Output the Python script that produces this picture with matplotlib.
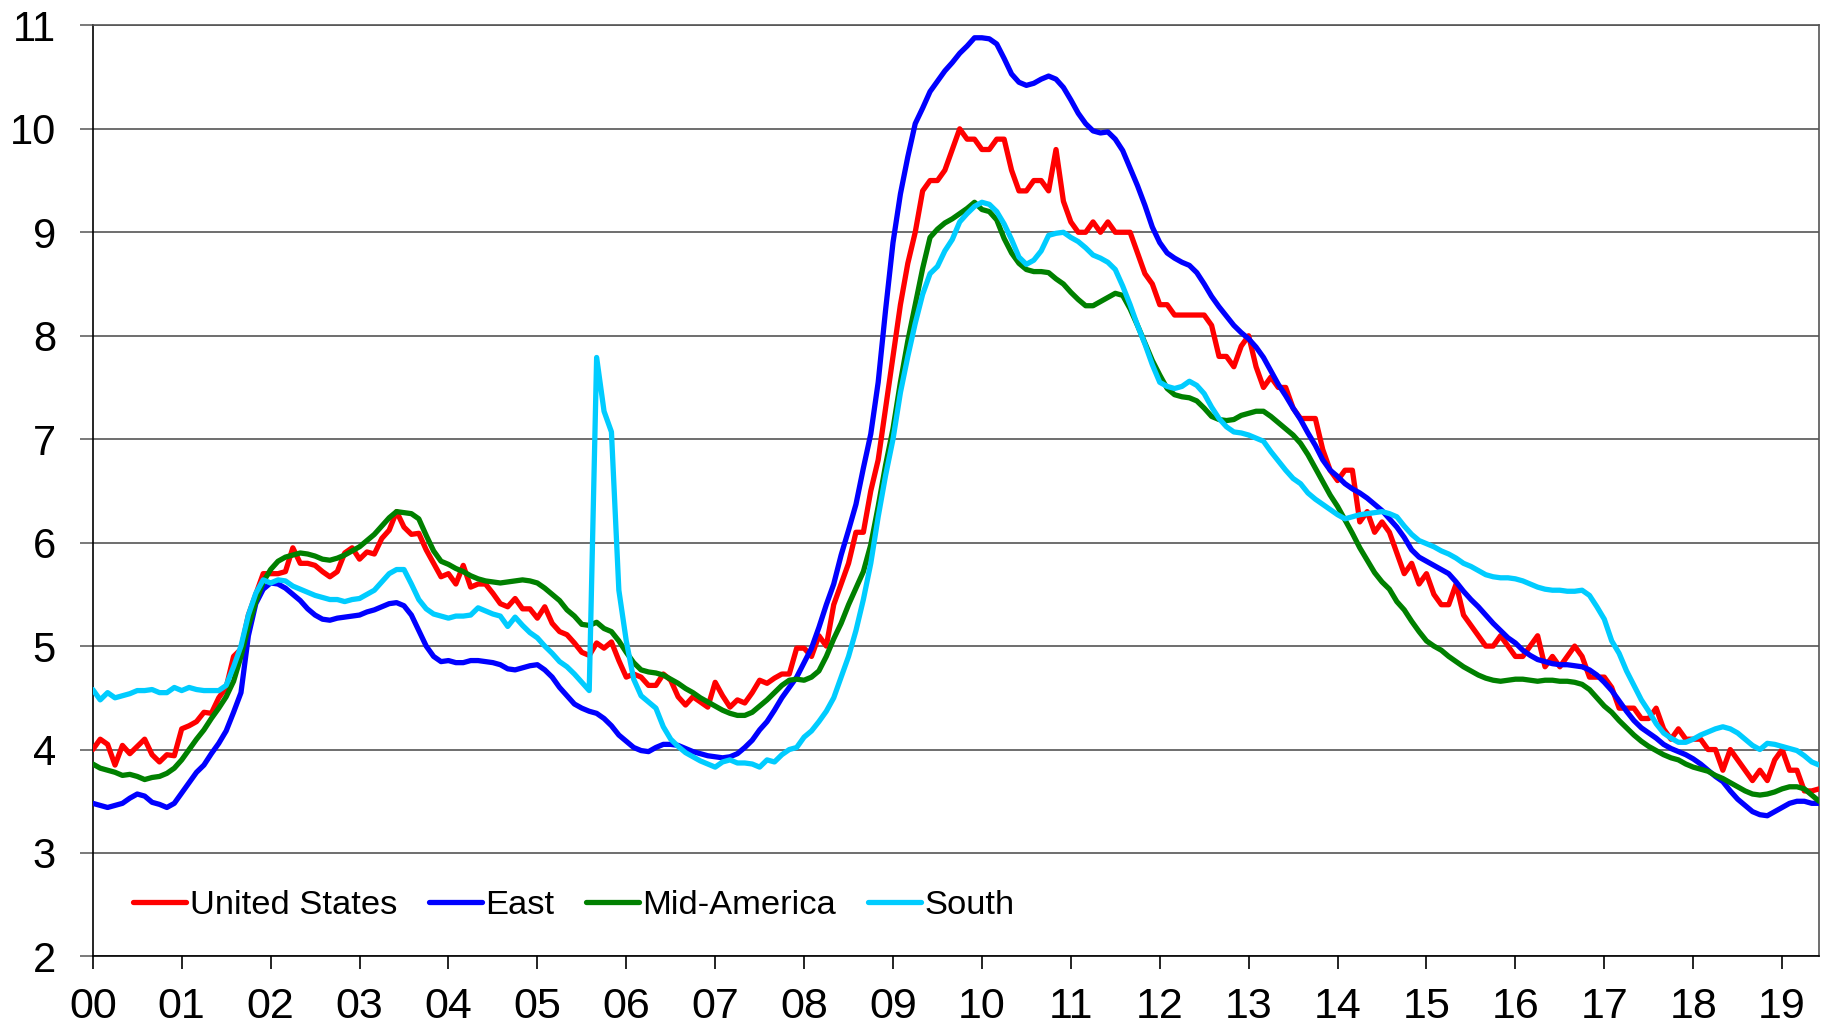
import matplotlib
matplotlib.use("Agg")
import matplotlib.pyplot as plt
import numpy as np

plt.rcParams['font.family'] = ['Liberation Sans', 'DejaVu Sans']

# monthly values, Jan 2000 .. Jun 2019
year_labels = ['00', '01', '02', '03', '04', '05', '06', '07', '08', '09',
               '10', '11', '12', '13', '14', '15', '16', '17', '18', '19']

us = [
    4.0, 4.1, 4.05, 3.85, 4.04, 3.96, 4.03, 4.1, 3.95, 3.88, 3.95, 3.94,
    4.2, 4.23, 4.27, 4.36, 4.35, 4.5, 4.6, 4.9, 4.97, 5.3, 5.5, 5.7,
    5.7, 5.7, 5.72, 5.95, 5.8, 5.8, 5.78, 5.72, 5.67, 5.72, 5.9, 5.95,
    5.84, 5.91, 5.89, 6.04, 6.12, 6.3, 6.15, 6.08, 6.09, 5.93, 5.8, 5.67,
    5.7, 5.6, 5.78, 5.57, 5.6, 5.6, 5.51, 5.41, 5.38, 5.46, 5.36, 5.36,
    5.27, 5.38, 5.22, 5.14, 5.11, 5.03, 4.94, 4.91, 5.03, 4.98, 5.04, 4.86,
    4.7, 4.73, 4.7, 4.62, 4.62, 4.73, 4.67, 4.51, 4.43, 4.51, 4.46, 4.41,
    4.65, 4.52, 4.41, 4.48, 4.45, 4.55, 4.67, 4.64, 4.69, 4.73, 4.73, 4.98,
    4.98, 4.9, 5.1, 5.0, 5.4, 5.6, 5.8, 6.1, 6.1, 6.5, 6.8, 7.3,
    7.8, 8.3, 8.7, 9.0, 9.4, 9.5, 9.5, 9.6, 9.8, 10.0, 9.9, 9.9,
    9.8, 9.8, 9.9, 9.9, 9.6, 9.4, 9.4, 9.5, 9.5, 9.4, 9.8, 9.3,
    9.1, 9.0, 9.0, 9.1, 9.0, 9.1, 9.0, 9.0, 9.0, 8.8, 8.6, 8.5,
    8.3, 8.3, 8.2, 8.2, 8.2, 8.2, 8.2, 8.1, 7.8, 7.8, 7.7, 7.9,
    8.0, 7.7, 7.5, 7.6, 7.5, 7.5, 7.3, 7.2, 7.2, 7.2, 6.9, 6.7,
    6.6, 6.7, 6.7, 6.2, 6.3, 6.1, 6.2, 6.1, 5.9, 5.7, 5.8, 5.6,
    5.7, 5.5, 5.4, 5.4, 5.6, 5.3, 5.2, 5.1, 5.0, 5.0, 5.1, 5.0,
    4.9, 4.9, 5.0, 5.1, 4.8, 4.9, 4.8, 4.9, 5.0, 4.9, 4.7, 4.7,
    4.7, 4.6, 4.4, 4.4, 4.4, 4.3, 4.3, 4.4, 4.2, 4.1, 4.2, 4.1,
    4.1, 4.1, 4.0, 4.0, 3.8, 4.0, 3.9, 3.8, 3.7, 3.8, 3.7, 3.9,
    4.0, 3.8, 3.8, 3.6, 3.6, 3.62,
]

east = [
    3.48, 3.46, 3.44, 3.46, 3.48, 3.53, 3.57, 3.55, 3.49, 3.47, 3.44, 3.48,
    3.58, 3.68, 3.78, 3.85, 3.96, 4.06, 4.18, 4.36, 4.55, 5.10, 5.41, 5.55,
    5.61, 5.60, 5.56, 5.50, 5.44, 5.36, 5.30, 5.26, 5.25, 5.27, 5.28, 5.29,
    5.30, 5.33, 5.35, 5.38, 5.41, 5.42, 5.39, 5.30, 5.15, 5.00, 4.90, 4.85,
    4.86, 4.84, 4.84, 4.86, 4.86, 4.85, 4.84, 4.82, 4.78, 4.77, 4.79, 4.81,
    4.82, 4.77, 4.70, 4.60, 4.52, 4.44, 4.40, 4.37, 4.35, 4.30, 4.23, 4.14,
    4.08, 4.02, 3.99, 3.98, 4.02, 4.05, 4.05, 4.04, 4.01, 3.98, 3.96, 3.94,
    3.93, 3.92, 3.93, 3.96, 4.02, 4.09, 4.19, 4.27, 4.38, 4.50, 4.60, 4.70,
    4.84, 4.98, 5.18, 5.40, 5.60, 5.88, 6.12, 6.37, 6.72, 7.05, 7.55, 8.25,
    8.90, 9.37, 9.73, 10.05, 10.20, 10.36, 10.46, 10.56, 10.64, 10.73, 10.80, 10.88,
    10.88, 10.87, 10.82, 10.68, 10.53, 10.45, 10.42, 10.44, 10.48, 10.51, 10.48, 10.40,
    10.28, 10.15, 10.05, 9.98, 9.96, 9.97, 9.90, 9.79, 9.62, 9.45, 9.26, 9.05,
    8.90, 8.80, 8.75, 8.71, 8.68, 8.61, 8.50, 8.38, 8.28, 8.19, 8.10, 8.03,
    7.97, 7.89, 7.79, 7.66, 7.53, 7.42, 7.30, 7.19, 7.06, 6.94, 6.80, 6.70,
    6.64, 6.57, 6.52, 6.48, 6.43, 6.37, 6.31, 6.23, 6.15, 6.05, 5.93, 5.86,
    5.82, 5.78, 5.74, 5.70, 5.62, 5.53, 5.45, 5.38, 5.30, 5.22, 5.15, 5.08,
    5.03, 4.96, 4.91, 4.87, 4.85, 4.83, 4.82, 4.82, 4.81, 4.80, 4.77, 4.72,
    4.65, 4.57, 4.47, 4.37, 4.28, 4.21, 4.16, 4.11, 4.05, 4.01, 3.98, 3.95,
    3.91, 3.86, 3.80, 3.74, 3.69, 3.60, 3.52, 3.46, 3.40, 3.37, 3.36, 3.40,
    3.44, 3.48, 3.50, 3.50, 3.48, 3.48,
]

mid_america = [
    3.86, 3.82, 3.80, 3.78, 3.75, 3.76, 3.74, 3.71, 3.73, 3.74, 3.77, 3.82,
    3.90, 4.00, 4.10, 4.19, 4.30, 4.40, 4.51, 4.66, 4.90, 5.19, 5.43, 5.62,
    5.74, 5.82, 5.86, 5.88, 5.90, 5.89, 5.87, 5.84, 5.83, 5.85, 5.88, 5.92,
    5.96, 6.02, 6.08, 6.16, 6.24, 6.30, 6.29, 6.28, 6.23, 6.07, 5.92, 5.82,
    5.79, 5.75, 5.72, 5.68, 5.65, 5.63, 5.62, 5.61, 5.62, 5.63, 5.64, 5.63,
    5.61, 5.56, 5.50, 5.44, 5.35, 5.29, 5.21, 5.20, 5.23, 5.17, 5.14, 5.05,
    4.94, 4.84, 4.77, 4.75, 4.74, 4.72, 4.68, 4.64, 4.59, 4.55, 4.50, 4.46,
    4.42, 4.38, 4.35, 4.33, 4.33, 4.36, 4.42, 4.48, 4.55, 4.62, 4.67, 4.68,
    4.67, 4.70, 4.76, 4.90, 5.07, 5.22, 5.40, 5.56, 5.72, 5.98, 6.35, 6.75,
    7.10, 7.55, 7.95, 8.30, 8.65, 8.95, 9.03, 9.09, 9.13, 9.18, 9.23, 9.29,
    9.22, 9.20, 9.12, 8.94, 8.80, 8.70, 8.64, 8.62, 8.62, 8.61, 8.55, 8.50,
    8.42, 8.35, 8.29, 8.29, 8.33, 8.37, 8.41, 8.39, 8.26, 8.10, 7.93, 7.76,
    7.62, 7.49, 7.43, 7.41, 7.40, 7.37, 7.30, 7.22, 7.19, 7.18, 7.19, 7.23,
    7.25, 7.27, 7.27, 7.22, 7.16, 7.10, 7.04, 6.96, 6.85, 6.72, 6.59, 6.46,
    6.35, 6.22, 6.09, 5.95, 5.83, 5.71, 5.62, 5.55, 5.43, 5.35, 5.24, 5.14,
    5.05, 5.00, 4.96, 4.90, 4.85, 4.80, 4.76, 4.72, 4.69, 4.67, 4.66, 4.67,
    4.68, 4.68, 4.67, 4.66, 4.67, 4.67, 4.66, 4.66, 4.65, 4.63, 4.58, 4.50,
    4.42, 4.36, 4.28, 4.21, 4.14, 4.08, 4.03, 3.99, 3.95, 3.92, 3.90, 3.86,
    3.83, 3.81, 3.79, 3.75, 3.72, 3.68, 3.64, 3.60, 3.57, 3.56, 3.57, 3.59,
    3.62, 3.64, 3.64, 3.62, 3.56, 3.50,
]

south = [
    4.58, 4.48, 4.55, 4.50, 4.52, 4.54, 4.57, 4.57, 4.58, 4.55, 4.55, 4.60,
    4.57, 4.60, 4.58, 4.57, 4.57, 4.57, 4.62, 4.80, 5.00, 5.30, 5.51, 5.64,
    5.61, 5.64, 5.63, 5.58, 5.55, 5.52, 5.49, 5.47, 5.45, 5.45, 5.43, 5.45,
    5.46, 5.50, 5.54, 5.62, 5.70, 5.74, 5.74, 5.60, 5.45, 5.36, 5.31, 5.29,
    5.27, 5.29, 5.29, 5.30, 5.37, 5.34, 5.31, 5.29, 5.19, 5.28, 5.20, 5.13,
    5.08, 5.00, 4.93, 4.85, 4.80, 4.73, 4.65, 4.57, 7.79, 7.27, 7.07, 5.54,
    5.05, 4.68, 4.52, 4.46, 4.40, 4.22, 4.10, 4.03, 3.97, 3.93, 3.89, 3.86,
    3.83, 3.88, 3.90, 3.87, 3.87, 3.86, 3.83, 3.90, 3.88, 3.95, 4.00, 4.02,
    4.12, 4.18, 4.27, 4.37, 4.50, 4.70, 4.90, 5.15, 5.45, 5.80, 6.25, 6.65,
    7.00, 7.45, 7.80, 8.12, 8.40, 8.60, 8.67, 8.82, 8.93, 9.10, 9.18, 9.25,
    9.29, 9.27, 9.20, 9.08, 8.93, 8.76, 8.69, 8.73, 8.82, 8.97, 8.99, 9.00,
    8.95, 8.91, 8.85, 8.78, 8.75, 8.71, 8.64, 8.48, 8.30, 8.10, 7.92, 7.72,
    7.55, 7.51, 7.49, 7.51, 7.56, 7.52, 7.44, 7.31, 7.20, 7.12, 7.07, 7.06,
    7.04, 7.01, 6.98, 6.88, 6.79, 6.70, 6.62, 6.57, 6.48, 6.42, 6.37, 6.32,
    6.27, 6.23, 6.25, 6.27, 6.28, 6.29, 6.30, 6.28, 6.25, 6.16, 6.08, 6.02,
    5.99, 5.96, 5.92, 5.89, 5.85, 5.80, 5.77, 5.73, 5.69, 5.67, 5.66, 5.66,
    5.65, 5.63, 5.60, 5.57, 5.55, 5.54, 5.54, 5.53, 5.53, 5.54, 5.49, 5.38,
    5.26, 5.05, 4.93, 4.76, 4.62, 4.48, 4.37, 4.25, 4.16, 4.11, 4.07, 4.07,
    4.10, 4.14, 4.17, 4.20, 4.22, 4.20, 4.16, 4.10, 4.04, 4.00, 4.06, 4.05,
    4.03, 4.01, 3.99, 3.94, 3.88, 3.85,
]

series = [
    ("United States", us, "#ff0000"),
    ("East", east, "#0000ff"),
    ("Mid-America", mid_america, "#008000"),
    ("South", south, "#00ccff"),
]

fig = plt.figure(figsize=(18.23, 10.27), dpi=100)
ax = fig.add_axes([0.0509, 0.0687, 0.9470, 0.9066])

for name, vals, col in series:
    months = np.arange(len(vals))
    ax.plot(months, vals, color=col, lw=3.8, label=name,
            solid_capstyle='round', solid_joinstyle='round', zorder=3)

ax.set_xlim(0, 233)
ax.set_ylim(2, 11)
ax.set_yticks(range(2, 12))
ax.set_xticks(np.arange(len(year_labels)) * 12)
ax.set_xticklabels(year_labels)

ax.grid(axis='y', color='#555555', lw=1.2, zorder=1)
ax.grid(axis='x', visible=False)
for side in ['left', 'bottom']:
    ax.spines[side].set_color('black')
    ax.spines[side].set_linewidth(1.2)
for side in ['right', 'top']:
    ax.spines[side].set_color('#555555')
    ax.spines[side].set_linewidth(1.2)

ax.tick_params(axis='y', direction='out', length=9.5, width=1.1,
               color='#555555', labelsize=30, pad=17)
ax.tick_params(axis='x', direction='out', length=9, width=1.2,
               color='black', labelsize=31, pad=13)

ax.legend(loc='center left', bbox_to_anchor=(0.0235, 0.055), ncol=4,
          frameon=False, fontsize=24.8, handlelength=1.54, handletextpad=0.09,
          columnspacing=0.93, borderpad=0, borderaxespad=0)

fig.savefig("out.png", dpi=100)
